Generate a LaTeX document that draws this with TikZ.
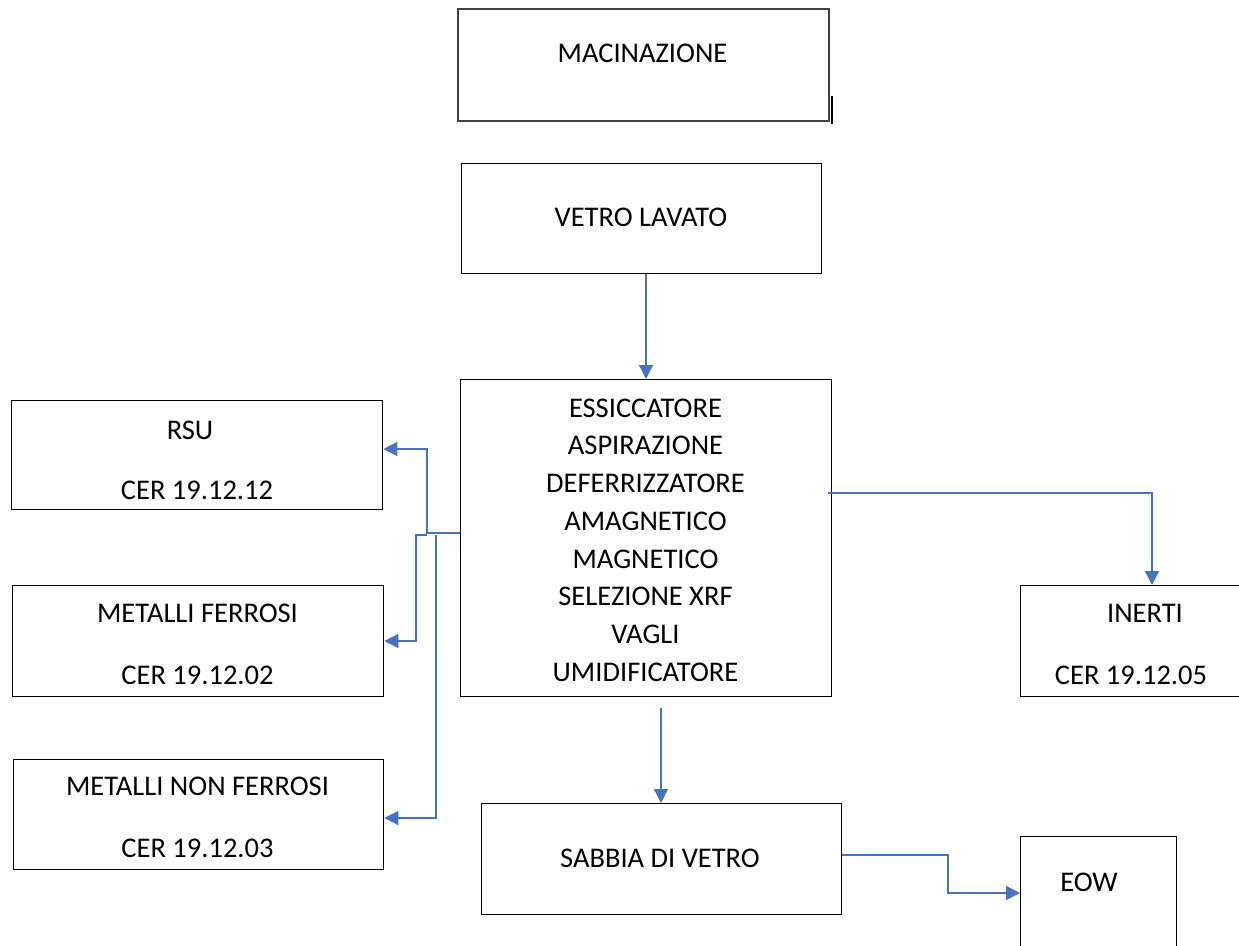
\documentclass[tikz,border=0pt]{standalone}
\usepackage{fontspec}
\setmainfont{Carlito}
\usetikzlibrary{arrows.meta}
\definecolor{flowblue}{HTML}{4472C4}
\begin{document}
\begin{tikzpicture}[x=1pt,y=-1pt,
  box/.style={draw=black, line width=1.3pt, inner sep=0pt, anchor=north west},
  txt/.style={font=\fontsize{28.5}{37.7}\selectfont, inner sep=0pt, align=center},
  flow/.style={draw=flowblue, line width=1.3pt, -{Triangle[length=14pt,width=14pt]}}]
\useasboundingbox (0,0) rectangle (1239,945);
\clip (0,0) rectangle (1239,945);

% process boxes
\node[box, draw=black!75, line width=1.6pt, minimum width=371pt, minimum height=112pt] (mac) at (457,8) {};
\node[box, minimum width=360pt, minimum height=110pt] (lav) at (461,163) {};
\node[box, minimum width=371pt, minimum height=317pt] (main) at (460,379) {};
\node[box, minimum width=371pt, minimum height=109pt] (rsu) at (11,400) {};
\node[box, minimum width=371pt, minimum height=111pt] (fer) at (12,585) {};
\node[box, minimum width=370pt, minimum height=110pt] (nfe) at (13,759) {};
\node[box, minimum width=240pt, minimum height=111pt] (ine) at (1020,585) {};
\node[box, minimum width=360pt, minimum height=111pt] (sab) at (481,803) {};
\node[box, minimum width=156pt, minimum height=130pt] (eow) at (1020,836) {};

% stray mark beside the first box
\draw[line width=1.2pt] (832,96) -- (832,124);

% labels
\node[txt] (tmac) at (642.5,53) {MACINAZIONE};
\node[txt] (tlav) at (641,217) {VETRO LAVATO};
\node[txt] (tmain) at (645.5,540) {ESSICCATORE\\ASPIRAZIONE\\DEFERRIZZATORE\\AMAGNETICO\\MAGNETICO\\SELEZIONE XRF\\VAGLI\\UMIDIFICATORE};
\node[txt] (trsu1) at (190,430) {RSU};
\node[txt] (trsu2) at (197,490) {CER 19.12.12};
\node[txt] (tfer1) at (197.5,613) {METALLI FERROSI};
\node[txt] (tfer2) at (197.5,675) {CER 19.12.02};
\node[txt] (tnfe1) at (197.5,786) {METALLI NON FERROSI};
\node[txt] (tnfe2) at (197.5,848) {CER 19.12.03};
\node[txt] (tine1) at (1145,613) {INERTI};
\node[txt] (tine2) at (1131,675) {CER 19.12.05};
\node[txt] (tsab) at (660,858) {SABBIA DI VETRO};
\node[txt] (teow) at (1089,882) {EOW};

% connectors
\coordinate (jl) at (427,533);
\coordinate (jr) at (1152,493);
\coordinate (jb) at (661,708);
\coordinate (js) at (948,855);

\draw[flow] (lav.south -| 646,0) -- (main.north -| 646,0);
\draw[flow] (main.west |- jl) -- (jl) |- (rsu.east |- 0,449);
\draw[flow] (427,535) -| (416,641) -- (fer.east |- 0,641);
\draw[flow] (436,535) |- (nfe.east |- 0,818);
\draw[flow] (828,493) -- (jr) -- (ine.north -| jr);
\draw[flow] (jb) -- (sab.north -| jb);
\draw[flow] (sab.east |- js) -- (js) |- (eow.west |- 0,893);
\end{tikzpicture}
\end{document}
